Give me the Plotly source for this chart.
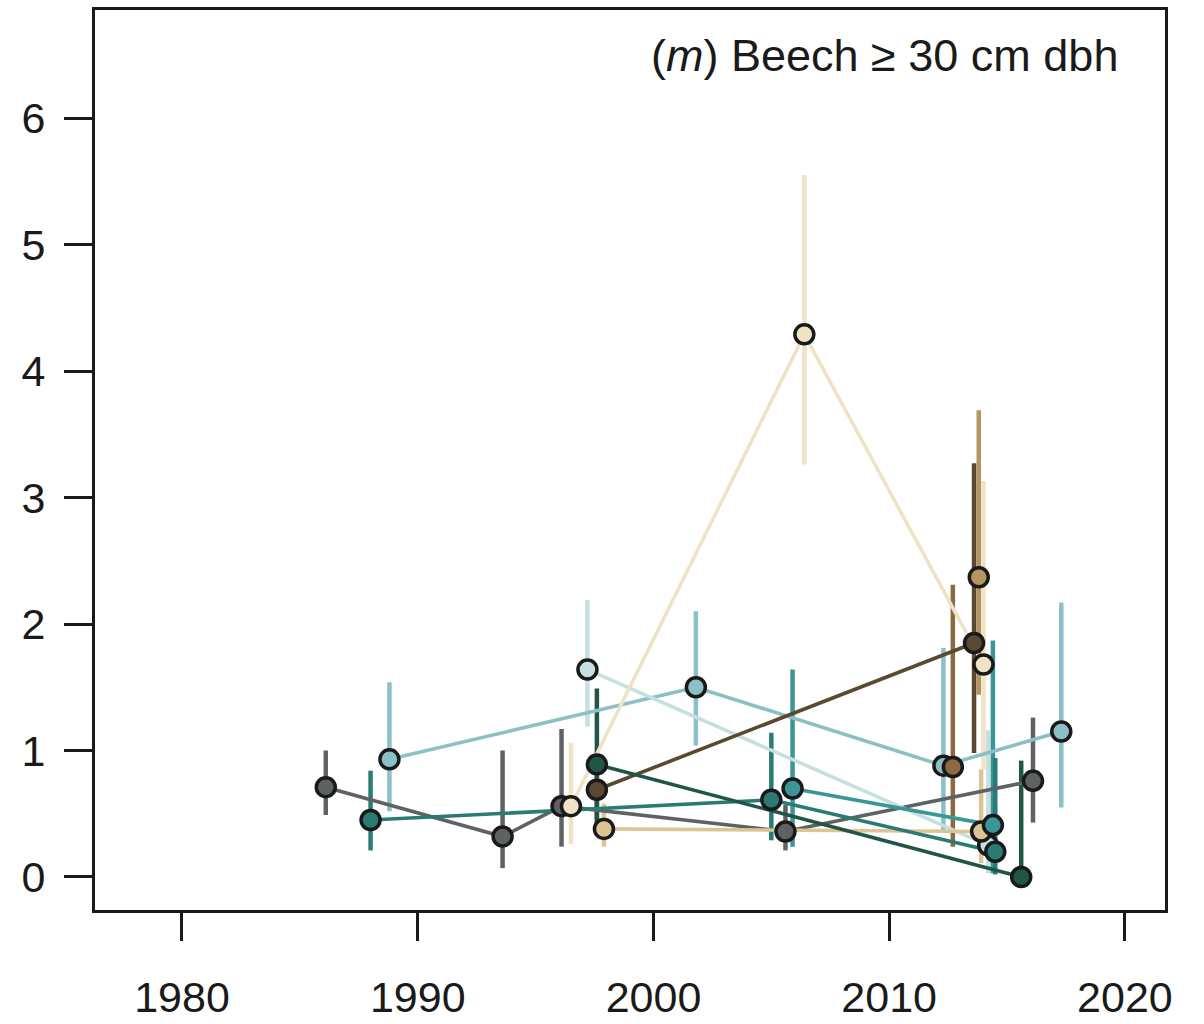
import plotly.graph_objects as go

# ---- data ----
gray_x = [1986.1, 1993.6, 1996.1, 2005.6, 2016.1]
gray_y = [0.71, 0.32, 0.56, 0.36, 0.76]
gray_lo = [0.49, 0.07, 0.24, 0.21, 0.43]
gray_hi = [1.00, 1.00, 1.17, 0.57, 1.26]

mteal_x = [1988.0, 2005.0, 2014.5]
mteal_y = [0.45, 0.61, 0.20]
mteal_lo = [0.21, 0.29, 0.02]
mteal_hi = [0.84, 1.14, 0.94]

lteal_x = [2005.9, 2014.4]
lteal_y = [0.70, 0.41]
lteal_lo = [0.24, 0.03]
lteal_hi = [1.64, 1.87]

lblue_x = [1988.8, 2001.8, 2012.3, 2017.3]
lblue_y = [0.93, 1.50, 0.88, 1.15]
lblue_lo = [0.52, 1.04, 0.37, 0.55]
lblue_hi = [1.54, 2.10, 1.81, 2.17]

pale_x = [1997.2, 2014.2]
pale_y = [1.64, 0.25]
pale_lo = [1.19, 0.03]
pale_hi = [2.19, 1.16]

dgreen_x = [1997.6, 2015.6]
dgreen_y = [0.89, 0.00]
dgreen_lo = [0.42, 0.00]
dgreen_hi = [1.49, 0.92]

dbrown_x = [1997.6, 2013.6]
dbrown_y = [0.69, 1.85]
dbrown_lo = [0.45, 0.98]
dbrown_hi = [0.92, 3.27]

brown_x = [2012.7]
brown_y = [0.87]
brown_lo = [0.24]
brown_hi = [2.31]

tan_x = [2013.8]
tan_y = [2.37]
tan_lo = [1.44]
tan_hi = [3.69]

ltan_x = [1997.9, 2013.9]
ltan_y = [0.38, 0.36]
ltan_lo = [0.24, 0.11]
ltan_hi = [0.58, 0.85]

cream_x = [1996.5, 2006.4, 2014.0]
cream_y = [0.56, 4.29, 1.68]
cream_lo = [0.26, 3.26, 0.85]
cream_hi = [1.06, 5.55, 3.13]

x_ticks = [1980, 1990, 2000, 2010, 2020]
y_ticks = [0, 1, 2, 3, 4, 5, 6]
title_html = "(<i>m</i>) Beech \u2265 30 cm dbh"

series = [
    (gray_x, gray_y, gray_lo, gray_hi, "#5f6262"),
    (lblue_x, lblue_y, lblue_lo, lblue_hi, "#8bc0c6"),
    (pale_x, pale_y, pale_lo, pale_hi, "#c6dfe0"),
    (cream_x, cream_y, cream_lo, cream_hi, "#f0e3c5"),
    (ltan_x, ltan_y, ltan_lo, ltan_hi, "#dcc594"),
    (tan_x, tan_y, tan_lo, tan_hi, "#b69462"),
    (brown_x, brown_y, brown_lo, brown_hi, "#8b6a3f"),
    (dbrown_x, dbrown_y, dbrown_lo, dbrown_hi, "#5a4930"),
    (lteal_x, lteal_y, lteal_lo, lteal_hi, "#3b9797"),
    (mteal_x, mteal_y, mteal_lo, mteal_hi, "#2a7b74"),
    (dgreen_x, dgreen_y, dgreen_lo, dgreen_hi, "#215646"),
]

fig = go.Figure()

# error bars
for xs, ys, lo, hi, col in series:
    ex, ey = [], []
    for x, l, h in zip(xs, lo, hi):
        ex += [x, x, None]
        ey += [l, h, None]
    fig.add_trace(go.Scatter(x=ex, y=ey, mode="lines",
                             line=dict(color=col, width=4.5),
                             hoverinfo="skip", showlegend=False))
# connecting lines
for xs, ys, lo, hi, col in series:
    if len(xs) > 1:
        fig.add_trace(go.Scatter(x=xs, y=ys, mode="lines",
                                 line=dict(color=col, width=3.6),
                                 showlegend=False))
# markers
for xs, ys, lo, hi, col in series:
    fig.add_trace(go.Scatter(x=xs, y=ys, mode="markers",
                             marker=dict(color=col, size=19,
                                         line=dict(color="#1a1a1a", width=3.5)),
                             showlegend=False))

axis_common = dict(showgrid=False, zeroline=False, showline=True, mirror=True,
                   linecolor="#1a1a1a", linewidth=3, ticks="outside",
                   ticklen=28, tickwidth=3, tickcolor="#1a1a1a", automargin=False,
                   tickfont=dict(family="Liberation Sans, Arial, sans-serif",
                                 size=43, color="#1a1a1a"))

fig.update_xaxes(range=[1976.31, 2021.70], tickvals=x_ticks,
                 ticktext=[str(v) for v in x_ticks], ticklabelstandoff=19,
                 **axis_common)
fig.update_yaxes(range=[-0.261, 6.854], tickvals=y_ticks,
                 ticktext=[str(v) for v in y_ticks], ticklabelstandoff=10,
                 **axis_common)

fig.add_annotation(text=title_html, xref="paper", yref="paper",
                   x=0.958, y=0.949, xanchor="right", yanchor="middle",
                   showarrow=False,
                   font=dict(family="Liberation Sans, Arial, sans-serif",
                             size=45, color="#1a1a1a"))

fig.update_layout(width=1204, height=1024,
                  margin=dict(l=95, r=39, t=10, b=114),
                  plot_bgcolor="white", paper_bgcolor="white")

fig.write_html("out.html")
